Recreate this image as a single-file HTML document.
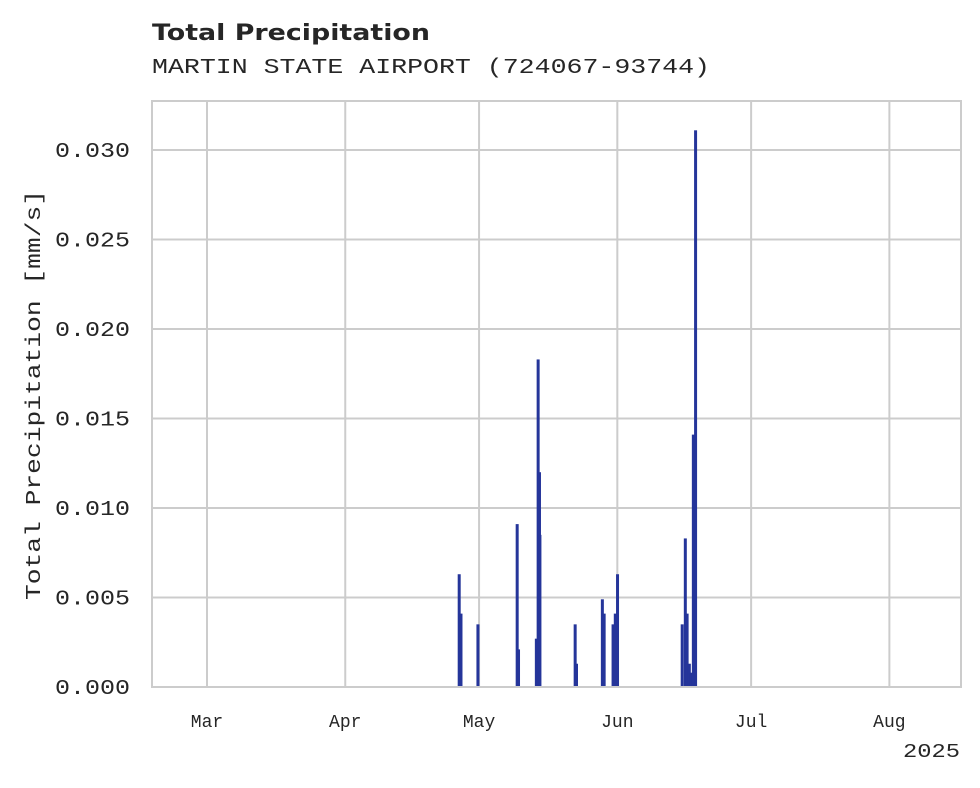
<!DOCTYPE html>
<html><head><meta charset="utf-8"><style>
body{margin:0;background:#fff;}
svg text{fill:#262626;}
</style></head><body>
<svg id="chart" width="980" height="783" xmlns="http://www.w3.org/2000/svg">
<text x="152" y="40" font-family="'DejaVu Sans',sans-serif" font-weight="bold" font-size="22" textLength="278" lengthAdjust="spacingAndGlyphs">Total Precipitation</text>
<text x="152" y="73" font-family="'Liberation Mono',monospace" font-size="21" textLength="558" lengthAdjust="spacingAndGlyphs">MARTIN STATE AIRPORT (724067-93744)</text>
<g id="grid"></g>
<g id="bars"></g>
<rect x="152" y="101" width="809" height="586" fill="none" stroke="#cccccc" stroke-width="2"/>
<g id="ticks"></g>
<text transform="translate(40,395) rotate(-90)" text-anchor="middle" font-family="'Liberation Mono',monospace" font-size="21" textLength="410" lengthAdjust="spacingAndGlyphs">Total Precipitation [mm/s]</text>
<text x="960" y="757" text-anchor="end" font-family="'Liberation Mono',monospace" font-size="19" textLength="57" lengthAdjust="spacingAndGlyphs">2025</text>
</svg>
<script>
// days since Mar 1 2025
const days = [56.3,56.7,60.5,69.3,69.6,73.6,74.0,74.3,74.4,82.3,82.6,88.4,88.8,90.8,91.3,91.8,106.3,107.0,107.4,107.9,108.3,108.8,109.3];
const values = [0.0063,0.0041,0.0035,0.0091,0.0021,0.0027,0.0183,0.012,0.0085,0.0035,0.0013,0.0049,0.0041,0.0035,0.0041,0.0063,0.0035,0.0083,0.0041,0.0013,0.0008,0.0141,0.0311];
const yTicks = [0,0.005,0.010,0.015,0.020,0.025,0.030];
const yTickLabels = ["0.000","0.005","0.010","0.015","0.020","0.025","0.030"];
const monthDays = [0,31,61,92,122,153];
const monthLabels = ["Mar","Apr","May","Jun","Jul","Aug"];
const x = d => 207 + d*4.46;
const y = v => 687 - v*17900;
const NS="http://www.w3.org/2000/svg";
const grid=document.getElementById('grid'), bars=document.getElementById('bars'), ticks=document.getElementById('ticks');
function mk(tag,attrs,parent){const e=document.createElementNS(NS,tag);for(const k in attrs)e.setAttribute(k,attrs[k]);parent.appendChild(e);return e;}
yTicks.forEach((t,i)=>{
  const l=mk('line',{x1:152,x2:961,y1:y(t),y2:y(t),stroke:'#cccccc','stroke-width':2},grid);
  
  
  const tx=mk('text',{x:55,y:y(t)+7,'font-family':"'Liberation Mono',monospace",'font-size':21,textLength:75,lengthAdjust:'spacingAndGlyphs'},ticks);
  tx.textContent=yTickLabels[i];
  
  
});
monthDays.forEach((d,i)=>{
  const l=mk('line',{x1:x(d),x2:x(d),y1:101,y2:687,stroke:'#cccccc','stroke-width':2},grid);
  
  
  const tx=mk('text',{x:x(d),y:727,'text-anchor':'middle','font-family':"'Liberation Mono',monospace",'font-size':18},ticks);
  tx.textContent=monthLabels[i];
  
  
});
days.forEach((d,i)=>{
  const r=mk('rect',{x:x(d)-0.4,y:y(values[i]),width:3,height:687-y(values[i]),fill:'#25359a'},bars);
  
  
});
</script>
</body></html>
